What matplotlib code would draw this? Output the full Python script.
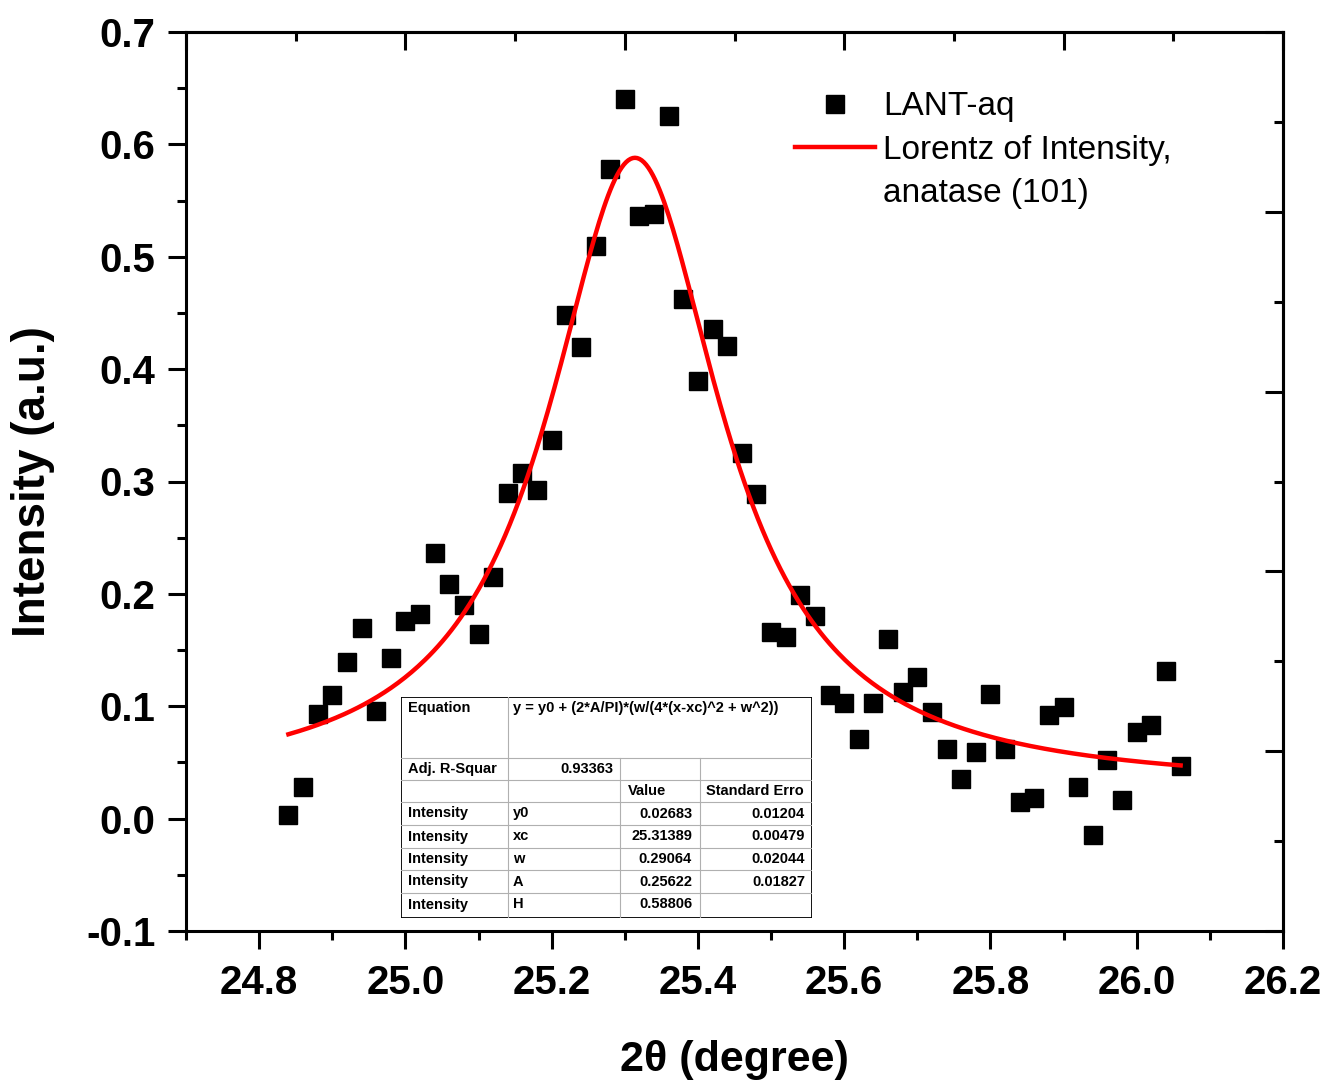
import numpy as np
import matplotlib
matplotlib.use('Agg')
import matplotlib.pyplot as plt
from matplotlib.lines import Line2D
from matplotlib.ticker import MultipleLocator, FixedLocator

plt.rcParams['axes.unicode_minus'] = False

# measured points (2theta, intensity)
two_theta = [24.84, 24.86, 24.88, 24.90, 24.92, 24.94, 24.96, 24.98, 25.00, 25.02,
             25.04, 25.06, 25.08, 25.10, 25.12, 25.14, 25.16, 25.18, 25.20, 25.22,
             25.24, 25.26, 25.28, 25.30, 25.32, 25.34, 25.36, 25.38, 25.40, 25.42,
             25.44, 25.46, 25.48, 25.50, 25.52, 25.54, 25.56, 25.58, 25.60, 25.62,
             25.64, 25.66, 25.68, 25.70, 25.72, 25.74, 25.76, 25.78, 25.80, 25.82,
             25.84, 25.86, 25.88, 25.90, 25.92, 25.94, 25.96, 25.98, 26.00, 26.02,
             26.04, 26.06]
intensity = [0.003, 0.028, 0.093, 0.110, 0.139, 0.170, 0.096, 0.143, 0.176, 0.182,
             0.236, 0.209, 0.190, 0.164, 0.215, 0.290, 0.308, 0.292, 0.337, 0.448,
             0.420, 0.510, 0.578, 0.640, 0.536, 0.538, 0.625, 0.462, 0.389, 0.436,
             0.421, 0.325, 0.289, 0.166, 0.162, 0.199, 0.180, 0.110, 0.103, 0.071,
             0.103, 0.160, 0.113, 0.126, 0.095, 0.062, 0.035, 0.059, 0.111, 0.062,
             0.015, 0.018, 0.092, 0.099, 0.028, -0.015, 0.052, 0.017, 0.077, 0.083,
             0.131, 0.047]

# Lorentz fit parameters (from the fit table)
y0, xc, w, A = 0.02683, 25.31389, 0.29064, 0.25622

equation = "y = y0 + (2*A/PI)*(w/(4*(x-xc)^2 + w^2))"
adj_r2 = "0.93363"
param_names = ["y0", "xc", "w", "A", "H"]
param_values = ["0.02683", "25.31389", "0.29064", "0.25622", "0.58806"]
param_errors = ["0.01204", "0.00479", "0.02044", "0.01827", ""]

W, H = 1331, 1084
fig = plt.figure(figsize=(W / 100, H / 100), dpi=100)
ax = fig.add_axes([186 / W, 1 - 931 / H, 1097 / W, 899 / H])

ax.plot(two_theta, intensity, 's', color='black', markersize=13, label='LANT-aq')
xf = np.linspace(two_theta[0], two_theta[-1], 400)
yf = y0 + (2 * A / np.pi) * (w / (4 * (xf - xc) ** 2 + w ** 2))
ax.plot(xf, yf, color='red', lw=3.2, label='Lorentz of Intensity,')

ax.set_xlim(24.7, 26.2)
ax.set_ylim(-0.1, 0.7)
ax.xaxis.set_minor_locator(MultipleLocator(0.1))
ax.yaxis.set_major_locator(MultipleLocator(0.1))
ax.yaxis.set_minor_locator(MultipleLocator(0.05))
ax.set_xticks(np.arange(24.8, 26.21, 0.2))
ax.set_xticklabels(['24.8', '25.0', '25.2', '25.4', '25.6', '25.8', '26.0', '26.2'])

for s in ax.spines.values():
    s.set_linewidth(2.2)
ax.tick_params(which='both', direction='out', width=2.2, top=False, right=False)
ax.tick_params(which='major', length=13)
ax.tick_params(which='minor', length=6.5)
ax.tick_params(axis='y', pad=9)
ax.tick_params(axis='x', pad=11)

for lab in ax.get_yticklabels():
    lab.set_fontfamily('Liberation Sans')
    lab.set_fontweight('bold')
    lab.set_fontsize(29)
for lab in ax.get_xticklabels():
    lab.set_fontfamily('Liberation Sans')
    lab.set_fontweight('bold')
    lab.set_fontsize(29)

# top and right axes with their own inward ticks
top = ax.secondary_xaxis('top')
top.xaxis.set_major_locator(FixedLocator(np.arange(24.7, 26.21, 0.3)))
top.xaxis.set_minor_locator(FixedLocator(np.arange(24.85, 26.2, 0.3)))
top.tick_params(which='both', direction='in', width=2.2, labeltop=False)
top.tick_params(which='major', length=13)
top.tick_params(which='minor', length=6.5)
top.spines['top'].set_linewidth(2.2)

right = ax.secondary_yaxis('right')
right.yaxis.set_major_locator(FixedLocator(np.arange(-0.1, 0.71, 0.16)))
right.yaxis.set_minor_locator(FixedLocator(np.arange(-0.02, 0.7, 0.16)))
right.tick_params(which='both', direction='in', width=2.2, labelright=False)
right.tick_params(which='major', length=13)
right.tick_params(which='minor', length=6.5)
right.spines['right'].set_linewidth(2.2)

ax.set_ylabel('Intensity (a.u.)', fontsize=33, fontweight='bold', family='Liberation Sans')
ax.yaxis.set_label_coords(-0.119, 0.5)
ax.set_xlabel('2\u03b8 (degree)', fontsize=31, fontweight='bold', family='Liberation Sans')
ax.xaxis.set_label_coords(0.5, -0.121)

handles, labels = ax.get_legend_handles_labels()
handles.append(Line2D([], [], color='none'))
labels.append('anatase (101)')
ax.legend(handles, labels, loc='upper left', bbox_to_anchor=(0.555, 0.934),
          frameon=False, prop=dict(family='Liberation Sans', size=24),
          handlelength=2.4, handletextpad=0.25, labelspacing=0.37,
          borderpad=0, borderaxespad=0)

# fit report table
tab = fig.add_axes([401 / W, 1 - 918 / H, 411 / W, 221 / H])
tab.set_xlim(0, 411)
tab.set_ylim(221, 0)
tab.axis('off')
tab.add_patch(plt.Rectangle((0, 0), 411, 221, facecolor='white', edgecolor='none'))
grey = '#b0b0b0'
for yy in [61, 83, 105, 128, 151, 173, 196]:
    tab.plot([0, 411], [yy, yy], color=grey, lw=0.8)
tab.plot([107, 107], [0, 221], color=grey, lw=0.8)
for xx in [219, 299]:
    tab.plot([xx, xx], [61, 221], color=grey, lw=0.8)
tab.add_patch(plt.Rectangle((0, 0), 411, 221, facecolor='none', edgecolor='black', lw=1.3))

tf = dict(fontsize=10.5, fontweight='bold', family='Liberation Sans', va='center')
tab.text(7, 11, 'Equation', **tf)
tab.text(112, 11, equation, **tf)
tab.text(7, 72, 'Adj. R-Squar', **tf)
tab.text(212, 72, adj_r2, ha='right', **tf)
tab.text(227, 94, 'Value', **tf)
tab.text(305, 94, 'Standard Erro', **tf)
row_y = [116.5, 139.5, 162, 184.5, 207.5]
for yy, n, v, e in zip(row_y, param_names, param_values, param_errors):
    tab.text(7, yy, 'Intensity', **tf)
    tab.text(112, yy, n, **tf)
    tab.text(291, yy, v, ha='right', **tf)
    tab.text(404, yy, e, ha='right', **tf)

fig.savefig('out.png', dpi=100)
